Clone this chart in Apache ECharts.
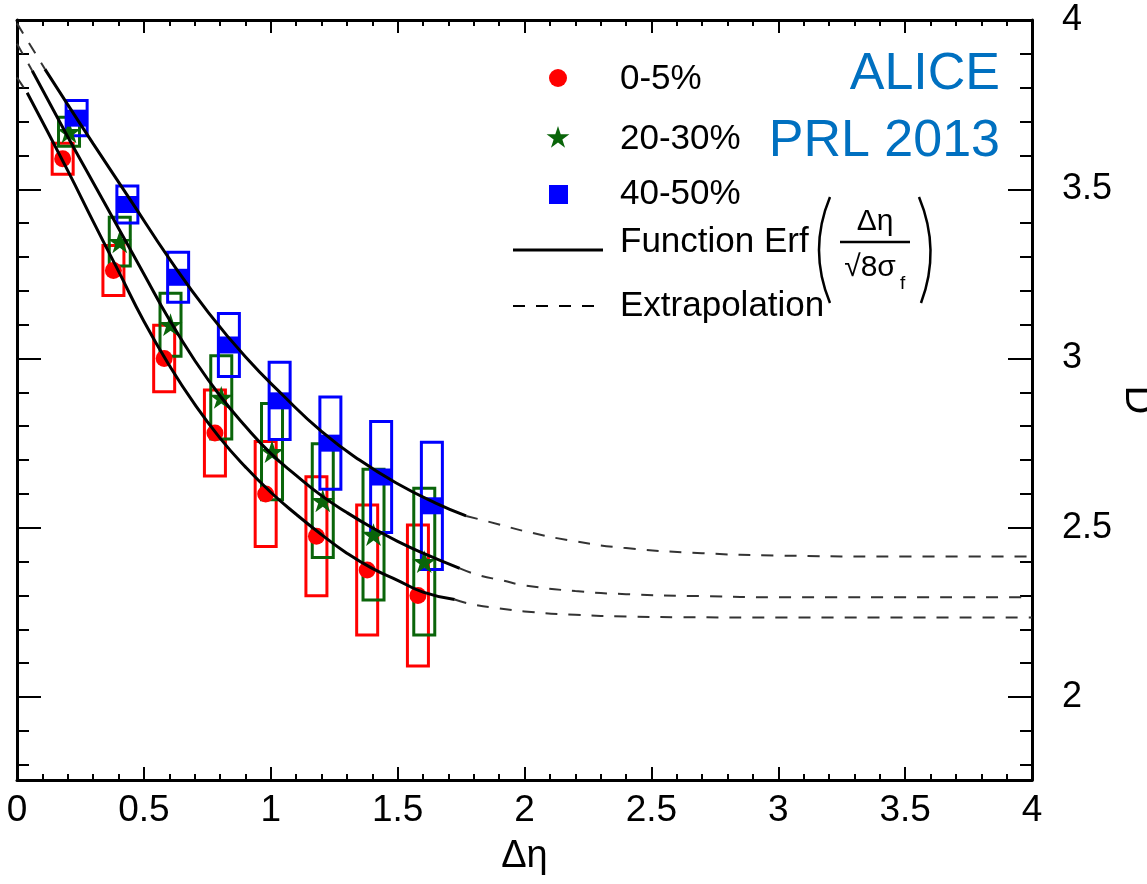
<!DOCTYPE html>
<html>
<head>
<meta charset="utf-8">
<title>ALICE PRL 2013 - D vs Δη</title>
<script src="https://cdn.jsdelivr.net/npm/echarts@6.0.0/dist/echarts.min.js"></script>
<style>
    html, body { margin: 0; padding: 0; background: #fff; }
    #chart { width: 1147px; height: 884px; }
</style>
</head>
<body>
<div id="chart"></div>
<script>
// 0-5% (red circles)
let redX = [0.18, 0.38, 0.58, 0.78, 0.98, 1.18, 1.38, 1.58]
let redY = [3.59, 3.26, 3.00, 2.78, 2.60, 2.475, 2.375, 2.30]
let redSys = [0.046, 0.074, 0.098, 0.127, 0.155, 0.176, 0.192, 0.208]
// 20-30% (green stars)
let greenX = [0.205, 0.405, 0.605, 0.805, 1.005, 1.205, 1.405, 1.605]
let greenY = [3.67, 3.345, 3.10, 2.885, 2.725, 2.58, 2.48, 2.40]
let greenSys = [0.043, 0.072, 0.093, 0.123, 0.142, 0.168, 0.193, 0.217]
// 40-50% (blue squares)
let blueX = [0.235, 0.435, 0.635, 0.835, 1.035, 1.235, 1.435, 1.635]
let blueY = [3.71, 3.455, 3.24, 3.04, 2.875, 2.75, 2.65, 2.565]
let blueSys = [0.052, 0.055, 0.074, 0.093, 0.114, 0.136, 0.164, 0.188]

// fit curves: head (dashed), fit (solid), tail (dashed)
let redHeadX = [0, 0.04]
let redHeadY = [3.83, 3.785]
let redFitX = [0.04, 0.2, 0.3, 0.4, 0.5, 0.6, 0.7, 0.8, 0.9, 1.0, 1.1, 1.2, 1.3, 1.4, 1.5, 1.6, 1.725]
let redFitY = [3.785, 3.555, 3.405, 3.258, 3.11, 2.98, 2.865, 2.765, 2.68, 2.605, 2.54, 2.48, 2.425, 2.38, 2.345, 2.31, 2.288]
let redTailX = [1.725, 1.8, 1.9, 2.0, 2.2, 2.4, 2.6, 3.0, 4.0]
let redTailY = [2.288, 2.273, 2.262, 2.253, 2.243, 2.238, 2.236, 2.235, 2.235]

let greenHeadX = [0, 0.06]
let greenHeadY = [3.93, 3.85]
let greenFitX = [0.06, 0.2, 0.3, 0.4, 0.5, 0.6, 0.7, 0.8, 0.9, 1.0, 1.1, 1.2, 1.3, 1.4, 1.5, 1.6, 1.745]
let greenFitY = [3.85, 3.655, 3.52, 3.385, 3.25, 3.115, 2.995, 2.89, 2.80, 2.72, 2.655, 2.595, 2.545, 2.50, 2.46, 2.425, 2.38]
let greenTailX = [1.745, 1.82, 1.91, 2.0, 2.2, 2.4, 2.7, 3.0, 4.0]
let greenTailY = [2.38, 2.36, 2.345, 2.33, 2.313, 2.304, 2.298, 2.295, 2.295]

let blueHeadX = [0, 0.11]
let blueHeadY = [3.99, 3.855]
let blueFitX = [0.11, 0.2, 0.3, 0.45, 0.6, 0.75, 0.9, 1.05, 1.2, 1.35, 1.5, 1.65, 1.77]
let blueFitY = [3.855, 3.75, 3.635, 3.465, 3.295, 3.14, 3.005, 2.89, 2.785, 2.70, 2.63, 2.573, 2.535]
let blueTailX = [1.77, 1.9, 2.0, 2.2, 2.4, 2.7, 3.0, 3.5, 4.0]
let blueTailY = [2.535, 2.51, 2.49, 2.46, 2.44, 2.425, 2.418, 2.415, 2.415]

// ticks
let yMajor = [2, 2.5, 3, 3.5, 4]
let yMinor = [1.8, 1.9, 2.1, 2.2, 2.3, 2.4, 2.6, 2.7, 2.8, 2.9, 3.1, 3.2, 3.3, 3.4, 3.6, 3.7, 3.8, 3.9]
let yLabels = ['2', '2.5', '3', '3.5', '4']
let Y_MIN = 1.755
let Y_MAX = 4

let FONT = '"Liberation Sans", Arial, sans-serif'
let BOX_PX = 21 // width of the systematic boxes, in pixels
let STAR = 'path://M50 0 L61.23 34.55 L97.55 34.55 L68.16 55.9 L79.39 90.45 L50 69.1 L20.61 90.45 L31.84 55.9 L2.45 34.55 L38.77 34.55 Z'

function pairs (xs, ys) {
    return xs.map(function (x, i) { return [x, ys[i]] })
}
function triples (xs, ys, es) {
    return xs.map(function (x, i) { return [x, ys[i], es[i]] })
}

// systematic error box
function boxSeries (xs, ys, es, color) {
    return {
        type: 'custom',
        z: 2,
        data: triples(xs, ys, es),
        renderItem: function (params, api) {
            let x = api.value(0), y = api.value(1), e = api.value(2)
            let top = api.coord([x, y + e])
            let bot = api.coord([x, y - e])
            return {
                type: 'rect',
                shape: { x: top[0] - BOX_PX / 2, y: top[1], width: BOX_PX, height: bot[1] - top[1] },
                style: { fill: 'none', stroke: color, lineWidth: 3 }
            }
        }
    }
}
function markerSeries (name, xs, ys, symbol, size, color) {
    return {
        name: name, type: 'scatter', z: 3,
        symbol: symbol, symbolSize: size, symbolKeepAspect: true,
        itemStyle: { color: color, opacity: 1 },
        data: pairs(xs, ys)
    }
}
function curve (xs, ys, dashed) {
    return {
        type: 'line', z: 4, smooth: true, showSymbol: false, silent: true,
        lineStyle: dashed
            ? { color: '#333', width: 2, type: [12, 11] }
            : { color: '#000', width: 3 },
        data: pairs(xs, ys)
    }
}

// legend star points
function starPoints (cx, cy, r) {
    let pts = []
    for (let k = 0; k < 10; k++) {
        let a = -Math.PI / 2 + k * Math.PI / 5
        let rr = k % 2 === 0 ? r : r * 0.382
        pts.push([cx + rr * Math.cos(a), cy + rr * Math.sin(a)])
    }
    return pts
}
function label (text, x, y, size, extra) {
    return {
        type: 'text', z: 10,
        style: Object.assign({ text: text, x: x, y: y, font: size + 'px ' + FONT, fill: '#000',
            textAlign: 'left', textVerticalAlign: 'middle' }, extra || {})
    }
}

let tickX = { show: true, inside: true, length: 13, lineStyle: { color: '#000', width: 2 } }
let minorX = { show: true, splitNumber: 5, length: 6, lineStyle: { color: '#000', width: 2 } }
let frame = { show: true, onZero: false, lineStyle: { color: '#000', width: 3 } }
let noLine = { show: false, onZero: false }

function yAxis (pos, values, len, withLabels) {
    return {
        type: 'value', position: pos, min: Y_MIN, max: Y_MAX,
        axisLine: withLabels !== null ? frame : noLine,
        axisTick: { show: true, inside: true, length: len, customValues: values, lineStyle: { color: '#000', width: 2 } },
        axisLabel: withLabels
            ? { show: true, customValues: yMajor, margin: 30, fontSize: 36, fontFamily: FONT, color: '#000',
                formatter: function (v) { return yLabels[yMajor.indexOf(+v.toFixed(2))] || '' } }
            : { show: false },
        splitLine: { show: false }
    }
}

let $dom = document.getElementById('chart')
let myChart = echarts.init($dom)
myChart.setOption({
    animation: false,
    backgroundColor: '#fff',
    textStyle: { fontFamily: FONT },
    grid: { left: 17, top: 20, width: 1015, height: 760, containLabel: false, outerBoundsMode: 'none' },
    xAxis: [
        {
            type: 'value', position: 'bottom', min: 0, max: 4, interval: 0.5,
            axisLine: frame, axisTick: tickX, minorTick: minorX,
            axisLabel: { margin: 12, fontSize: 37, fontFamily: FONT, color: '#000' },
            splitLine: { show: false }, minorSplitLine: { show: false },
            name: 'Δη', nameLocation: 'middle', nameGap: 58, nameMoveOverlap: false,
            nameTextStyle: { fontSize: 38, fontFamily: FONT, color: '#000' }
        },
        {
            type: 'value', position: 'top', min: 0, max: 4, interval: 0.5,
            axisLine: frame, axisTick: tickX, minorTick: minorX,
            axisLabel: { show: false }, splitLine: { show: false }
        }
    ],
    yAxis: [
        yAxis('left', yMajor, 24, false),
        yAxis('left', yMinor, 12, null),
        Object.assign(yAxis('right', yMajor, 24, true), {
            name: 'D', nameLocation: 'middle', nameGap: 85, nameRotate: -90, nameMoveOverlap: false,
            nameTextStyle: { fontSize: 40, fontFamily: FONT, color: '#000' }
        }),
        yAxis('right', yMinor, 12, null)
    ],
    series: [
        boxSeries(redX, redY, redSys, '#ff0000'),
        boxSeries(greenX, greenY, greenSys, '#0a650a'),
        boxSeries(blueX, blueY, blueSys, '#0000ff'),
        markerSeries('0-5%', redX, redY, 'circle', 17, '#ff0000'),
        markerSeries('20-30%', greenX, greenY, STAR, 24, '#0a650a'),
        markerSeries('40-50%', blueX, blueY, 'rect', [21, 17], '#0000ff'),
        curve(redHeadX, redHeadY, true), curve(redFitX, redFitY, false), curve(redTailX, redTailY, true),
        curve(greenHeadX, greenHeadY, true), curve(greenFitX, greenFitY, false), curve(greenTailX, greenTailY, true),
        curve(blueHeadX, blueHeadY, true), curve(blueFitX, blueFitY, false), curve(blueTailX, blueTailY, true)
    ],
    graphic: [
        // legend
        { type: 'circle', z: 10, shape: { cx: 558, cy: 78, r: 9 }, style: { fill: '#ff0000' } },
        { type: 'polygon', z: 10, shape: { points: starPoints(558, 138, 12) }, style: { fill: '#0a650a' } },
        { type: 'rect', z: 10, shape: { x: 549, y: 185, width: 19, height: 19 }, style: { fill: '#0000ff' } },
        { type: 'line', z: 10, shape: { x1: 513, y1: 250, x2: 603, y2: 250 }, style: { stroke: '#000', lineWidth: 3 } },
        { type: 'line', z: 10, shape: { x1: 513, y1: 306, x2: 603, y2: 306 }, style: { stroke: '#000', lineWidth: 2, lineDash: [12, 11] } },
        label('0-5%', 620, 79, 35),
        label('20-30%', 620, 139, 35),
        label('40-50%', 620, 194, 35),
        label('Function Erf', 620, 242, 35),
        label('Extrapolation', 620, 306, 35),
        // Erf( Δη / √8σf )
        { type: 'bezierCurve', z: 10, shape: { x1: 830, y1: 197, cpx1: 808, cpy1: 250, x2: 830, y2: 303 }, style: { stroke: '#000', lineWidth: 2.5, fill: 'none' } },
        { type: 'bezierCurve', z: 10, shape: { x1: 919, y1: 197, cpx1: 941, cpy1: 250, x2: 921, y2: 303 }, style: { stroke: '#000', lineWidth: 2.5, fill: 'none' } },
        label('Δη', 875, 222, 30, { textAlign: 'center' }),
        { type: 'line', z: 10, shape: { x1: 840, y1: 242, x2: 910, y2: 242 }, style: { stroke: '#000', lineWidth: 2.5 } },
        label('√8σ', 870, 268, 30, { textAlign: 'center' }),
        label('f', 900, 284, 19),
        // experiment tag
        label('ALICE', 1000, 75, 52, { textAlign: 'right', fill: '#0070c0' }),
        label('PRL 2013', 1000, 142, 52, { textAlign: 'right', fill: '#0070c0' })
    ]
})
</script>
</body>
</html>
